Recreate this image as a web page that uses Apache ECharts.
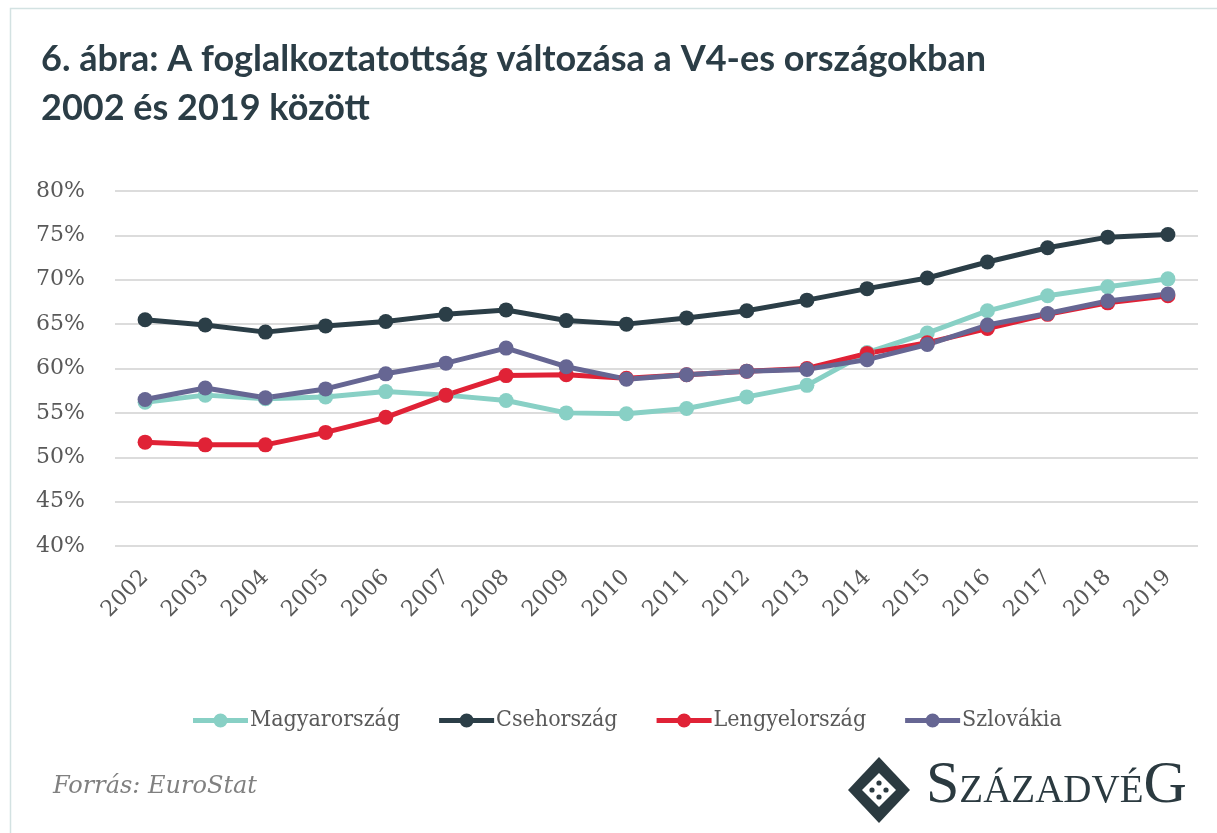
<!DOCTYPE html>
<html>
<head>
<meta charset="utf-8">
<script src="https://cdn.jsdelivr.net/npm/echarts@6/dist/echarts.min.js"></script>
<style>
html,body{margin:0;padding:0;background:#fff;}
#c{width:1217px;height:833px;}
</style>
</head>
<body>
<div id="c"></div>
<script>
const years = ['2002','2003','2004','2005','2006','2007','2008','2009','2010','2011','2012','2013','2014','2015','2016','2017','2018','2019'];
const magyarorszag = [56.2, 57.0, 56.6, 56.8, 57.4, 57.0, 56.4, 55.0, 54.9, 55.5, 56.8, 58.1, 61.8, 64.0, 66.5, 68.2, 69.2, 70.1];
const csehorszag   = [65.5, 64.9, 64.1, 64.8, 65.3, 66.1, 66.6, 65.4, 65.0, 65.7, 66.5, 67.7, 69.0, 70.2, 72.0, 73.6, 74.8, 75.1];
const lengyelorszag= [51.7, 51.4, 51.4, 52.8, 54.5, 57.0, 59.2, 59.3, 58.9, 59.3, 59.7, 60.0, 61.7, 62.9, 64.5, 66.1, 67.4, 68.2];
const szlovakia    = [56.5, 57.8, 56.7, 57.7, 59.4, 60.6, 62.3, 60.2, 58.8, 59.3, 59.7, 59.9, 61.0, 62.7, 64.9, 66.2, 67.6, 68.4];
const seriesNames = ['Magyarország','Csehország','Lengyelország','Szlovákia'];
const seriesColors = ['#88d0c5','#2b3e47','#e02236','#666693'];
const seriesData = [magyarorszag, csehorszag, lengyelorszag, szlovakia];

const chart = echarts.init(document.getElementById('c'));
const serif = '"DejaVu Serif", serif';
const dark = '#2b3a40';
const legendIcon = 'path://M0,4.5L55,4.5L55,9.5L0,9.5Z M20.5,7A7,7 0 1,1 34.5,7A7,7 0 1,1 20.5,7Z';

function mkSeries(i){
  return {
    name: seriesNames[i],
    type: 'line',
    data: seriesData[i],
    symbol: 'circle',
    symbolSize: 15,
    lineStyle: {width: 5, color: seriesColors[i]},
    itemStyle: {color: seriesColors[i]},
    emphasis: {disabled: true},
    animation: false
  };
}

const cx = 879, cy = 790;
chart.setOption({
  animation: false,
  title: {
    text: '6. ábra: A foglalkoztatottság változása a V4-es országokban\n2002 és 2019 között',
    left: 36, top: 30,
    textStyle: {fontFamily: 'Lato', fontWeight: 'bold', fontSize: 36, lineHeight: 49, color: '#2b3d46'}
  },
  grid: {left: 115, right: 19, top: 191, bottom: 287, containLabel: false},
  xAxis: {
    type: 'category',
    data: years,
    boundaryGap: true,
    axisLine: {show: false},
    axisTick: {show: false},
    axisLabel: {rotate: 45, margin: 28, fontFamily: serif, fontSize: 22, color: '#595959', interval: 0}
  },
  yAxis: {
    type: 'value',
    min: 40, max: 80, interval: 5,
    axisLine: {show: false},
    axisTick: {show: false},
    axisLabel: {formatter: '{value}%', margin: 30, fontFamily: serif, fontSize: 22, color: '#595959'},
    splitLine: {lineStyle: {color: '#dcdcdc', width: 2}}
  },
  legend: {
    data: seriesNames.map(n => ({name: n, icon: legendIcon})),
    left: 188, top: 704,
    itemWidth: 55, itemHeight: 14,
    itemGap: 39,
    textStyle: {fontFamily: '"DejaVu Serif Condensed", "DejaVu Serif", serif', fontSize: 23, color: '#595959', padding: [0,0,0,-3]}
  },
  series: [0,1,2,3].map(mkSeries),
  graphic: [
    {type: 'rect', shape: {x: 10.5, y: 8.5, width: 1300, height: 900}, style: {fill: null, stroke: '#d3e2e2', lineWidth: 1.5}, silent: true},
    {type: 'text', left: 53, top: 775, style: {text: 'Forrás: EuroStat', fontFamily: serif, fontStyle: 'italic', fontSize: 24, fill: '#808080'}},
    {type: 'polygon', shape: {points: [[cx, cy-33],[cx+31, cy],[cx, cy+33],[cx-31, cy]]}, style: {fill: dark}},
    {type: 'polygon', shape: {points: [[cx, cy-17],[cx+17, cy],[cx, cy+17],[cx-17, cy]]}, style: {fill: '#ffffff'}},
    {type: 'circle', shape: {cx: cx, cy: cy-7, r: 2.6}, style: {fill: dark}},
    {type: 'circle', shape: {cx: cx, cy: cy+7, r: 2.6}, style: {fill: dark}},
    {type: 'circle', shape: {cx: cx-7, cy: cy, r: 2.6}, style: {fill: dark}},
    {type: 'circle', shape: {cx: cx+7, cy: cy, r: 2.6}, style: {fill: dark}},
    {type: 'text', left: 926, top: 756, style: {
      text: '{a|S}{b|ZÁZADVÉ}{a|G}',
      rich: {
        a: {fontFamily: '"Liberation Serif", serif', fontSize: 60, fill: dark, verticalAlign: 'bottom'},
        b: {fontFamily: '"Liberation Serif", serif', fontSize: 39, fill: dark, verticalAlign: 'bottom', padding: [0,0,5,0]}
      }
    }}
  ]
});
</script>
</body>
</html>
